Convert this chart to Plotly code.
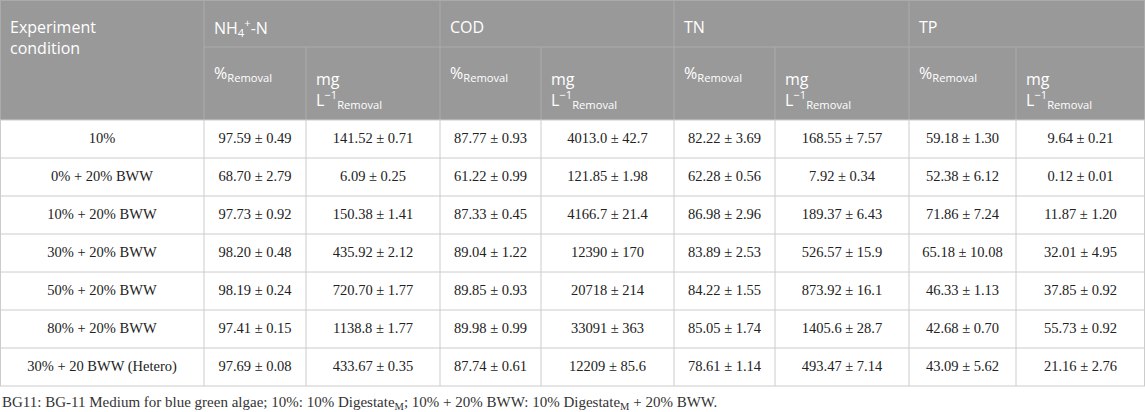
#! python3

# Removal performance table (NH4+-N, COD, TN, TP)

import plotly.graph_objs as go

# Table data
conditions = ["10%", "0% + 20% BWW", "10% + 20% BWW", "30% + 20% BWW",
              "50% + 20% BWW", "80% + 20% BWW", "30% + 20 BWW (Hetero)"]
nh4_pct = ["97.59 ± 0.49", "68.70 ± 2.79", "97.73 ± 0.92", "98.20 ± 0.48",
           "98.19 ± 0.24", "97.41 ± 0.15", "97.69 ± 0.08"]
nh4_mg = ["141.52 ± 0.71", "6.09 ± 0.25", "150.38 ± 1.41", "435.92 ± 2.12",
          "720.70 ± 1.77", "1138.8 ± 1.77", "433.67 ± 0.35"]
cod_pct = ["87.77 ± 0.93", "61.22 ± 0.99", "87.33 ± 0.45", "89.04 ± 1.22",
           "89.85 ± 0.93", "89.98 ± 0.99", "87.74 ± 0.61"]
cod_mg = ["4013.0 ± 42.7", "121.85 ± 1.98", "4166.7 ± 21.4", "12390 ± 170",
          "20718 ± 214", "33091 ± 363", "12209 ± 85.6"]
tn_pct = ["82.22 ± 3.69", "62.28 ± 0.56", "86.98 ± 2.96", "83.89 ± 2.53",
          "84.22 ± 1.55", "85.05 ± 1.74", "78.61 ± 1.14"]
tn_mg = ["168.55 ± 7.57", "7.92 ± 0.34", "189.37 ± 6.43", "526.57 ± 15.9",
         "873.92 ± 16.1", "1405.6 ± 28.7", "493.47 ± 7.14"]
tp_pct = ["59.18 ± 1.30", "52.38 ± 6.12", "71.86 ± 7.24", "65.18 ± 10.08",
          "46.33 ± 1.13", "42.68 ± 0.70", "43.09 ± 5.62"]
tp_mg = ["9.64 ± 0.21", "0.12 ± 0.01", "11.87 ± 1.20", "32.01 ± 4.95",
         "37.85 ± 0.92", "55.73 ± 0.92", "21.16 ± 2.76"]

row_header = "Experiment<br>condition"
groups = ["NH<sub>4</sub><sup>+</sup>-N", "COD", "TN", "TP"]
sub_labels = ["%<sub>Removal</sub>", "mg<br>L<sup>−1</sup><sub>Removal</sub>"]
footnote = ("BG11: BG-11 Medium for blue green algae; 10%: 10% Digestate<sub>M</sub>; "
            "10% + 20% BWW: 10% Digestate<sub>M</sub> + 20% BWW.")

columns = [conditions, nh4_pct, nh4_mg, cod_pct, cod_mg, tn_pct, tn_mg, tp_pct, tp_mg]

# layout (pixels)
W, H = 1145, 412
col_edges = [0, 204, 306, 440, 541, 674, 775, 909, 1016, 1145]
head_split = 47
head_bottom = 120
row_h = 38
pad = 8
sub_offset = [13, 19]  # top of %Removal / mg labels below the split line

header_bg = "#999999"
header_line = "#ababab"
grid_line = "#cccccc"
body_font = dict(family="Liberation Serif", size=14.5, color="#222222")
head_font = dict(family="Open Sans", size=16, color="white")

fig = go.Figure()

# body text, one trace per column
n_rows = len(conditions)
row_mid = [head_bottom + row_h * (i + 0.5) for i in range(n_rows)]
for j, col in enumerate(columns):
    xc = (col_edges[j] + col_edges[j + 1]) / 2
    fig.add_trace(go.Scatter(x=[xc] * n_rows, y=row_mid, text=col, mode="text",
                             textposition="middle center", textfont=body_font,
                             hoverinfo="skip", showlegend=False, cliponaxis=False))

shapes = []
# header background
shapes.append(dict(type="rect", x0=0, x1=W, y0=0, y1=head_bottom,
                   fillcolor=header_bg, line_width=0, layer="below"))
body_bottom = head_bottom + row_h * n_rows
# vertical lines
for k, xe in enumerate(col_edges):
    xe = min(max(xe, 0.5), W - 0.5)
    y_top = head_split if k % 2 == 0 and 0 < k < len(col_edges) - 1 else 0
    shapes.append(dict(type="line", x0=xe, x1=xe, y0=y_top, y1=head_bottom,
                       line=dict(color=header_line, width=1)))
    shapes.append(dict(type="line", x0=xe, x1=xe, y0=head_bottom, y1=body_bottom,
                       line=dict(color=grid_line, width=1)))
# header split line
shapes.append(dict(type="line", x0=col_edges[1], x1=W, y0=head_split, y1=head_split,
                   line=dict(color=header_line, width=1)))
shapes.append(dict(type="line", x0=0, x1=W, y0=0.5, y1=0.5,
                   line=dict(color=header_line, width=1)))
# row lines
for i in range(n_rows + 1):
    yy = head_bottom + row_h * i
    shapes.append(dict(type="line", x0=0, x1=W, y0=yy, y1=yy,
                       line=dict(color=grid_line, width=1)))

annotations = []
annotations.append(dict(x=pad, y=(27 + 48) / 2, text=row_header, xanchor="left",
                        yanchor="middle", align="left", showarrow=False, font=head_font))
for g, name in enumerate(groups):
    annotations.append(dict(x=col_edges[1 + 2 * g] + pad, y=27, text=name,
                            xanchor="left", yanchor="middle", align="left",
                            showarrow=False, font=head_font))
    for s, lab in enumerate(sub_labels):
        annotations.append(dict(x=col_edges[1 + 2 * g + s] + pad,
                                y=head_split + sub_offset[s],
                                text=lab, xanchor="left", yanchor="top", align="left",
                                showarrow=False, font=head_font))
annotations.append(dict(x=0, y=403, text=footnote, xanchor="left", yanchor="middle",
                        align="left", showarrow=False,
                        font=dict(family="Liberation Serif", size=15, color="#333333")))

fig.update_layout(
    width=W, height=H, margin=dict(l=0, r=0, t=0, b=0),
    paper_bgcolor="white", plot_bgcolor="white",
    xaxis=dict(range=[0, W], visible=False, fixedrange=True),
    yaxis=dict(range=[H, 0], visible=False, fixedrange=True),
    shapes=shapes, annotations=annotations,
)

# page body has a default 8px margin; drop it so the table sits at the corner
fig.write_html("out.html", config={"displayModeBar": False},
               post_script="document.body.style.margin='0';")
